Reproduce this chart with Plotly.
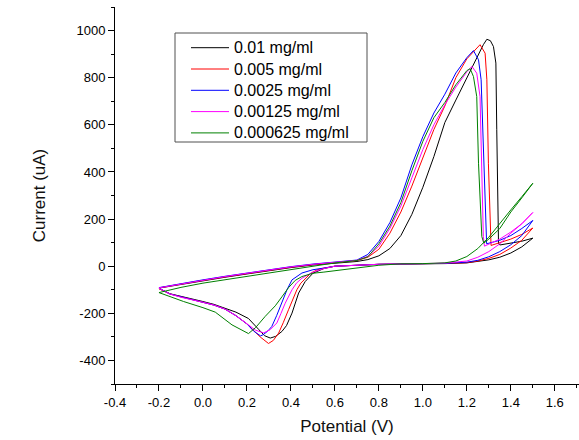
import plotly.graph_objects as go

# ---- data (loop: forward -0.2 -> 1.5, reverse 1.5 -> -0.2) ----
labels = ["0.01 mg/ml", "0.005 mg/ml", "0.0025 mg/ml", "0.00125 mg/ml", "0.000625 mg/ml"]
colors = ["#000000", "#ff0000", "#0000ff", "#ff00ff", "#008000"]

V_001 = [-0.2, -0.1, 0.0, 0.1, 0.2, 0.3, 0.4, 0.5, 0.6, 0.7, 0.75, 0.8, 0.85, 0.9, 0.95, 1.0, 1.05, 1.1, 1.15, 1.2,
         1.25, 1.275, 1.291, 1.307, 1.321, 1.332, 1.336, 1.341, 1.344, 1.35, 1.4, 1.45, 1.5,
         1.45, 1.4, 1.35, 1.3, 1.25, 1.2, 1.1, 1.0, 0.9, 0.8, 0.7, 0.6, 0.55, 0.5, 0.465, 0.435, 0.405, 0.38, 0.359, 0.33,
         0.306, 0.28, 0.253, 0.207, 0.15, 0.1, 0.05, 0.0, -0.05, -0.1, -0.15, -0.2]
I_001 = [-93, -77, -62, -47, -33, -19, -6, 5, 14, 20, 28, 44, 75, 130, 220, 335, 465, 610, 705, 800,
         893, 940, 963, 957, 932, 862, 579, 296, 98, 90, 98, 106, 119,
         82, 56, 38, 27, 19, 14, 11, 10, 10, 8, 4, 0, -10, -30, -65, -114, -199, -252, -277, -298,
         -305, -295, -268, -222, -195, -177, -162, -150, -139, -128, -117, -95]

V_0005 = [-0.2, -0.1, 0.0, 0.1, 0.2, 0.3, 0.4, 0.5, 0.6, 0.7, 0.75, 0.8, 0.85, 0.9, 0.95, 1.0, 1.05, 1.1, 1.15, 1.2,
          1.23, 1.26, 1.283, 1.291, 1.298, 1.306, 1.31, 1.35, 1.4, 1.45, 1.5,
          1.45, 1.4, 1.35, 1.3, 1.25, 1.2, 1.1, 1.0, 0.9, 0.8, 0.7, 0.6, 0.55, 0.52, 0.49, 0.465, 0.445, 0.427, 0.41, 0.389,
          0.365, 0.344, 0.32, 0.298, 0.26, 0.23, 0.2, 0.15, 0.1, 0.05, 0.0, -0.05, -0.1, -0.15, -0.2]
I_0005 = [-92, -75, -60, -45, -31, -17, -4, 7, 16, 24, 38, 72, 140, 230, 340, 460, 580, 680, 800, 880,
          911, 940, 904, 791, 437, 126, 88, 100, 115, 135, 162,
          110, 77, 50, 33, 22, 15, 12, 11, 10, 8, 4, 0, -8, -15, -30, -51, -72, -100, -135, -185,
          -240, -284, -315, -328, -300, -272, -245, -210, -182, -165, -153, -143, -132, -118, -95]

V_00025 = [-0.2, -0.1, 0.0, 0.1, 0.2, 0.3, 0.4, 0.5, 0.6, 0.7, 0.75, 0.8, 0.85, 0.9, 0.95, 1.0, 1.05, 1.1, 1.15, 1.2,
           1.23, 1.253, 1.265, 1.276, 1.286, 1.29, 1.35, 1.4, 1.45, 1.5,
           1.45, 1.4, 1.35, 1.3, 1.25, 1.2, 1.1, 1.0, 0.9, 0.8, 0.7, 0.6, 0.55, 0.5, 0.45, 0.405, 0.382, 0.359, 0.335, 0.313,
           0.295, 0.275, 0.262, 0.23, 0.2, 0.15, 0.1, 0.05, 0.0, -0.05, -0.1, -0.15, -0.2]
I_00025 = [-91, -73, -58, -43, -29, -15, -2, 9, 18, 26, 50, 105, 185, 290, 430, 550, 650, 730, 820, 885,
           915, 876, 791, 437, 126, 95, 110, 130, 160, 194,
           130, 91, 62, 40, 25, 17, 12, 11, 10, 8, 4, 0, -8, -15, -29, -58, -100, -157, -210, -256,
           -275, -290, -296, -275, -245, -210, -182, -165, -153, -143, -132, -118, -93]

V_000125 = [-0.2, -0.1, 0.0, 0.1, 0.2, 0.3, 0.4, 0.5, 0.6, 0.7, 0.75, 0.8, 0.85, 0.9, 0.95, 1.0, 1.05, 1.1, 1.15, 1.2,
            1.223, 1.245, 1.26, 1.268, 1.275, 1.28, 1.35, 1.4, 1.45, 1.5,
            1.45, 1.4, 1.35, 1.3, 1.25, 1.2, 1.1, 1.0, 0.9, 0.8, 0.7, 0.6, 0.55, 0.5, 0.45, 0.425, 0.405, 0.374, 0.355, 0.336,
            0.305, 0.276, 0.24, 0.2, 0.15, 0.1, 0.05, 0.0, -0.05, -0.1, -0.15, -0.2]
I_000125 = [-92, -75, -59, -44, -30, -16, -3, 8, 17, 25, 42, 85, 160, 255, 375, 495, 600, 685, 760, 825,
            848, 819, 720, 437, 126, 85, 115, 145, 180, 228,
            180, 140, 95, 62, 38, 22, 13, 11, 10, 8, 4, 0, -10, -25, -51, -72, -100, -157, -200, -241,
            -270, -283, -272, -245, -210, -182, -165, -153, -143, -132, -118, -94]

V_0000625 = [-0.2, -0.1, 0.0, 0.1, 0.2, 0.3, 0.4, 0.5, 0.6, 0.7, 0.75, 0.8, 0.85, 0.9, 0.95, 1.0, 1.05, 1.1, 1.15, 1.2,
             1.215, 1.23, 1.245, 1.253, 1.268, 1.277, 1.3, 1.35, 1.4, 1.45, 1.5,
             1.45, 1.4, 1.35, 1.3, 1.25, 1.2, 1.15, 1.1, 1.0, 0.9, 0.8, 0.75, 0.7, 0.6, 0.55, 0.5, 0.45, 0.42, 0.39, 0.359,
             0.329, 0.283, 0.24, 0.207, 0.177, 0.132, 0.056, 0.0, -0.088, -0.149, -0.2]
I_0000625 = [-112, -90, -72, -58, -44, -30, -16, 0, 14, 24, 40, 95, 170, 270, 405, 530, 630, 695, 770, 830,
             838, 805, 720, 437, 126, 98, 115, 160, 230, 290, 352,
             295, 239, 180, 123, 75, 41, 22, 14, 11, 10, 4, -2, -10, -22, -25, -30, -44, -60, -90, -130,
             -168, -213, -260, -286, -270, -249, -195, -176, -150, -128, -112]

x_tickvals = [-0.4, -0.2, 0.0, 0.2, 0.4, 0.6, 0.8, 1.0, 1.2, 1.4, 1.6]
x_ticktext = ["-0.4", "-0.2", "0.0", "0.2", "0.4", "0.6", "0.8", "1.0", "1.2", "1.4", "1.6"]
y_tickvals = [-400, -200, 0, 200, 400, 600, 800, 1000]
y_ticktext = ["-400", "-200", "0", "200", "400", "600", "800", "1000"]

series = [(V_001, I_001), (V_0005, I_0005), (V_00025, I_00025), (V_000125, I_000125), (V_0000625, I_0000625)]

FONT = "Liberation Sans, Arial, sans-serif"
W, H = 579, 440
ML, MR, MT, MB = 115, 0, 7, 56
PW, PH = W - ML - MR, H - MT - MB


def px_to_paper(px, py):
    return (px - ML) / PW, (H - MB - py) / PH


fig = go.Figure()
for (vx, iy), name, col in zip(series, labels, colors):
    fig.add_trace(go.Scatter(x=vx, y=iy, mode="lines", name=name, showlegend=False,
                             line=dict(color=col, width=1)))

axis_common = dict(
    showline=True, linecolor="#000000", linewidth=1,
    ticks="outside", ticklen=6, tickwidth=1, tickcolor="#000000",
    showgrid=False, zeroline=False, mirror=False, automargin=False,
    tickfont=dict(family=FONT, size=13, color="#000000"),
)

# ---- legend box (drawn manually for exact row spacing) ----
shapes = []
annotations = []
bx0, by0 = px_to_paper(175, 33)
bx1, by1 = px_to_paper(367, 142)
shapes.append(dict(type="rect", xref="paper", yref="paper", x0=bx0, x1=bx1, y0=by1, y1=by0,
                   line=dict(color="#505050", width=1), fillcolor="rgba(255,255,255,0)", layer="above"))
row_y = [47.7, 69.0, 90.3, 111.6, 132.9]
for name, col, ry in zip(labels, colors, row_y):
    lx0, ly = px_to_paper(191, ry)
    lx1, _ = px_to_paper(229, ry)
    shapes.append(dict(type="line", xref="paper", yref="paper", x0=lx0, x1=lx1, y0=ly, y1=ly,
                       line=dict(color=col, width=1), layer="above"))
    tx, _ = px_to_paper(232, ry)
    annotations.append(dict(xref="paper", yref="paper", x=tx, y=ly, text=name, showarrow=False,
                            xanchor="left", yanchor="middle", align="left",
                            font=dict(family=FONT, size=16, color="#000000")))

fig.update_layout(
    width=W, height=H,
    margin=dict(l=ML, r=MR, t=MT, b=MB),
    paper_bgcolor="white", plot_bgcolor="white",
    font=dict(family=FONT, color="#000000"),
    xaxis=dict(range=[-0.4, 1.71], tickmode="array", tickvals=x_tickvals, ticktext=x_ticktext,
               minor=dict(dtick=0.1, tick0=0, ticks="outside", ticklen=3, tickcolor="#000000"),
               title=dict(text="Potential (V)", font=dict(family=FONT, size=17, color="#111111"), standoff=11),
               **axis_common),
    yaxis=dict(range=[-500, 1100], tickmode="array", tickvals=y_tickvals, ticktext=y_ticktext,
               minor=dict(dtick=100, tick0=0, ticks="outside", ticklen=3, tickcolor="#000000"),
               title=dict(text="Current (uA)", font=dict(family=FONT, size=17, color="#111111"), standoff=26),
               **axis_common),
    shapes=shapes,
    annotations=annotations,
    showlegend=False,
)

fig.write_html("out.html", config={"displayModeBar": False},
               post_script="document.body.style.margin='0px';")
